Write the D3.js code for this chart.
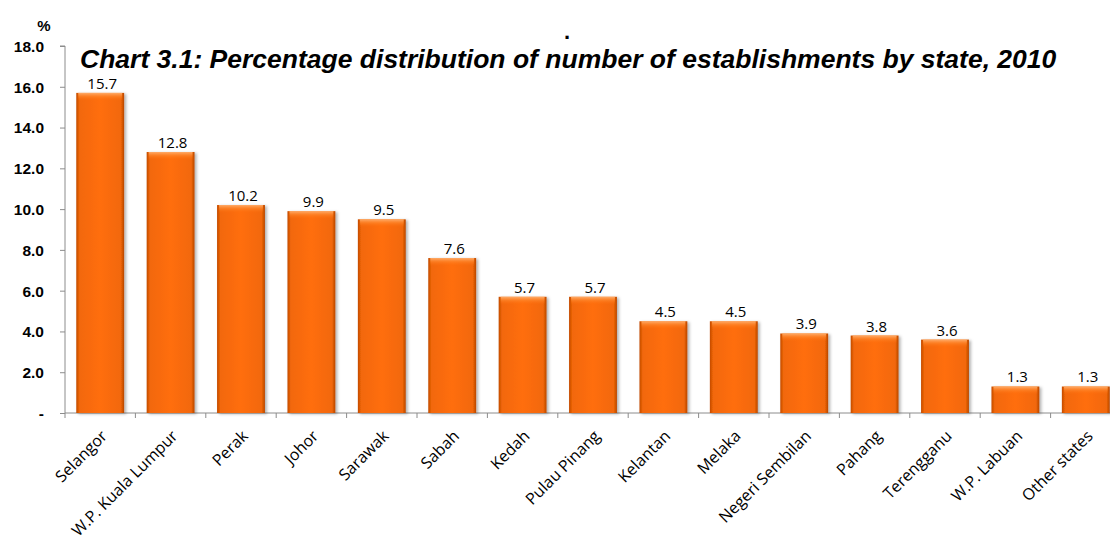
<!DOCTYPE html>
<html><head><meta charset="utf-8">
<script src="https://cdn.jsdelivr.net/npm/d3@7"></script>
<style>
html,body{margin:0;padding:0;background:#fff;overflow:hidden;}
svg{display:block;}
</style></head>
<body>
<script>
const categories = ["Selangor","W.P. Kuala Lumpur","Perak","Johor","Sarawak","Sabah","Kedah","Pulau Pinang","Kelantan","Melaka","Negeri Sembilan","Pahang","Terengganu","W.P. Labuan","Other states"];
const values = [15.7,12.8,10.2,9.9,9.5,7.6,5.7,5.7,4.5,4.5,3.9,3.8,3.6,1.3,1.3];
const yTicks = [0,2,4,6,8,10,12,14,16,18];
const yTickLabels = ["-","2.0","4.0","6.0","8.0","10.0","12.0","14.0","16.0","18.0"];
const titleText = "Chart 3.1: Percentage distribution of number of establishments by state, 2010";

const W = 1110, H = 545;
const svg = d3.select("body").append("svg").attr("width", W).attr("height", H);
const defs = svg.append("defs");

const gH = defs.append("linearGradient").attr("id","gh").attr("x1","0").attr("x2","1").attr("y1","0").attr("y2","0");
[[0,"#C24A00"],[0.07,"#F26808"],[0.5,"#FF6E0A"],[0.93,"#F26808"],[1,"#B84600"]].forEach(s=>gH.append("stop").attr("offset",s[0]).attr("stop-color",s[1]));
const gV = defs.append("linearGradient").attr("id","gv").attr("x1","0").attr("x2","0").attr("y1","0").attr("y2","1");
[[0,"#FFB070",0.95],[0.45,"#FF8A30",0.6],[1,"#FF6E0A",0]].forEach(s=>gV.append("stop").attr("offset",s[0]).attr("stop-color",s[1]).attr("stop-opacity",s[2]));
const f = defs.append("filter").attr("id","sh").attr("x","-20%").attr("y","-20%").attr("width","150%").attr("height","150%");
f.append("feDropShadow").attr("dx",2).attr("dy",1).attr("stdDeviation",1.5).attr("flood-color","#000").attr("flood-opacity",0.3);

const x0 = 65, y0 = 413, yTop = 46;
const step = 70.4;
const x = d3.scaleBand().domain(categories).range([x0, x0 + step*categories.length]).paddingInner(0.32).paddingOuter(0.16);
const y = d3.scaleLinear().domain([0,18]).range([y0, yTop]);

// y axis
const yAxis = d3.axisLeft(y).tickValues(yTicks).tickSize(5).tickFormat((d,i)=>yTickLabels[i]);
const ya = svg.append("g").attr("transform",`translate(${x0},0)`).call(yAxis);
ya.select(".domain").attr("stroke","#8c8c8c").attr("d",`M-5,${yTop}H0V${y0}`);
ya.selectAll(".tick line").attr("stroke","#8c8c8c");
ya.selectAll(".tick text").attr("x",-21).attr("dy","0.35em")
  .style("font-family","'Liberation Sans',Arial,sans-serif").style("font-weight","bold").style("font-size","15.5px").attr("fill","#000");

// x axis
const xa = svg.append("g").attr("transform",`translate(0,${y0})`);
xa.append("line").attr("x1",x0).attr("x2",x0+step*categories.length).attr("stroke","#8c8c8c");
xa.selectAll("line.tk").data(d3.range(categories.length+1)).join("line").attr("class","tk")
  .attr("x1",i=>x0+i*step).attr("x2",i=>x0+i*step).attr("y1",0).attr("y2",5).attr("stroke","#8c8c8c");

// bars
const bars = svg.append("g");
bars.selectAll("rect.bar").data(values).join("rect").attr("class","bar")
  .attr("x",(d,i)=>x(categories[i])).attr("width",x.bandwidth())
  .attr("y",d=>y(d)).attr("height",d=>y0-y(d))
  .attr("fill","url(#gh)").attr("filter","url(#sh)");
bars.selectAll("rect.hl").data(values).join("rect").attr("class","hl")
  .attr("x",(d,i)=>x(categories[i])+2).attr("width",x.bandwidth()-4)
  .attr("y",d=>y(d)).attr("height",8).attr("fill","url(#gv)");

// value labels
svg.append("g").selectAll("text").data(values).join("text")
  .attr("x",(d,i)=>x(categories[i])+x.bandwidth()/2+2)
  .attr("y",d=>y(d)-4)
  .attr("text-anchor","middle")
  .style("font-family","'Open Sans','Liberation Sans',sans-serif").style("font-size","15px").attr("fill","#000")
  .text(d=>d.toFixed(1));

// category labels
svg.append("g").selectAll("text").data(categories).join("text")
  .attr("transform",(d)=>`translate(${x(d)+x.bandwidth()/2+8},${y0+24}) rotate(-45)`)
  .attr("text-anchor","end")
  .style("font-family","'Open Sans','Liberation Sans',sans-serif").style("font-size","16px").attr("fill","#000")
  .text(d=>d);

// % label
svg.append("text").attr("x",44).attr("y",31).attr("text-anchor","middle")
  .style("font-family","'Liberation Sans',Arial,sans-serif").style("font-weight","bold").style("font-size","15px").text("%");

// dot
svg.append("text").attr("x",567).attr("y",39).attr("text-anchor","middle")
  .style("font-family","'Liberation Sans',Arial,sans-serif").style("font-weight","bold").style("font-size","22px").text(".");

// title
svg.append("text").attr("x",80).attr("y",68)
  .style("font-family","'Liberation Sans',Arial,sans-serif").style("font-weight","bold").style("font-style","italic").style("font-size","26.5px")
  .text(titleText);
</script>
</body></html>
